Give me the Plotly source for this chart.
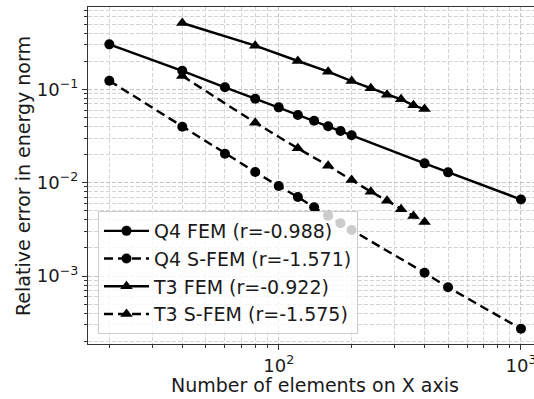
import plotly.graph_objects as go

# ---- data ----
q4_x = [20, 40, 60, 80, 100, 120, 140, 160, 180, 200, 400, 500, 1000]
q4_fem = [0.303, 0.158, 0.105, 0.0793, 0.0641, 0.0531, 0.0461, 0.0402, 0.0357, 0.0322, 0.0161, 0.0129, 0.0066]
q4_sfem = [0.1236, 0.0397, 0.0204, 0.0130, 0.0092, 0.00702, 0.00545, 0.00443, 0.00367, 0.00311, 0.001084, 0.000757, 0.000272]

t3_x = [40, 80, 120, 160, 200, 240, 280, 320, 360, 400]
t3_fem = [0.513, 0.293, 0.201, 0.1545, 0.1227, 0.1025, 0.0875, 0.0781, 0.0674, 0.0615]
t3_sfem = [0.139, 0.0439, 0.0233, 0.0152, 0.01067, 0.0080, 0.00641, 0.00519, 0.00440, 0.00379]

names = ["Q4 FEM (r=-0.988)", "Q4 S-FEM (r=-1.571)", "T3 FEM (r=-0.922)", "T3 S-FEM (r=-1.575)"]

x_label = "Number of elements on X axis"
y_label = "Relative error in energy norm"

x_tickvals = [100, 1000]
x_ticktext = ["10<sup>2</sup>", "10<sup>3</sup>"]
y_tickvals = [1e-3, 1e-2, 1e-1]
y_ticktext = ["10<sup>\u22123</sup>", "10<sup>\u22122</sup>", "10<sup>\u22121</sup>"]

x_minor = [m * 10 ** e for e in range(1, 4) for m in range(2, 10)]
y_minor = [m * 10.0 ** e for e in range(-4, 1) for m in range(2, 10)]

FONT = "DejaVu Sans"
INK = "#1a1a1a"
DASH = "9px,5px"

fig = go.Figure()
series = [
    (q4_x, q4_fem, "solid", "circle", 10),
    (q4_x, q4_sfem, DASH, "circle", 10),
    (t3_x, t3_fem, "solid", "triangle-up", 11),
    (t3_x, t3_sfem, DASH, "triangle-up", 11),
]
for (xs, ys, dash, sym, ms), nm in zip(series, names):
    fig.add_trace(go.Scatter(
        x=xs, y=ys, name=nm, mode="lines+markers",
        line=dict(color="black", width=2.4, dash=dash),
        marker=dict(symbol=sym, size=ms, color="black"),
    ))

grid_major = "#c4c4c4"
grid_minor = "#d4d4d4"

axis_common = dict(
    type="log", tickmode="array", automargin=False,
    showline=True, linecolor="#333333", linewidth=1.2,
    ticks="outside", ticklen=5, tickwidth=1, tickcolor="#333333",
    showgrid=True, gridcolor=grid_major, griddash="4px,2px", gridwidth=1,
    zeroline=False, tickfont=dict(size=18), ticklabeloverflow="allow",
)
minor_common = dict(tickmode="array", ticks="outside", ticklen=3, tickcolor="#333333",
                    showgrid=True, gridcolor=grid_minor, griddash="4px,2px", gridwidth=1)

fig.update_layout(
    width=534, height=399,
    margin=dict(l=88, r=0, t=7, b=55),
    paper_bgcolor="white", plot_bgcolor="white",
    font=dict(family=FONT, size=18, color=INK),
    showlegend=True,
    legend=dict(
        x=0.0224, y=0.0297, xanchor="left", yanchor="bottom",
        bgcolor="rgba(255,255,255,0.8)", bordercolor="#cccccc", borderwidth=1,
        font=dict(family=FONT, size=19, color=INK),
        itemwidth=45,
    ),
    xaxis=dict(axis_common, range=[1.2130, 3.0537], mirror=True,
               tickvals=x_tickvals, ticktext=x_ticktext,
               minor=dict(minor_common, tickvals=x_minor)),
    yaxis=dict(axis_common, range=[-3.728, -0.1184], mirror=False,
               tickvals=y_tickvals, ticktext=y_ticktext,
               minor=dict(minor_common, tickvals=y_minor)),
    annotations=[
        dict(text=x_label, xref="paper", yref="paper", x=0.509, y=-0.1217,
             xanchor="center", yanchor="middle", showarrow=False,
             font=dict(size=19, family=FONT, color=INK)),
        dict(text=y_label, xref="paper", yref="paper", x=-0.1469, y=0.5,
             xanchor="center", yanchor="middle", showarrow=False, textangle=-90,
             font=dict(size=19, family=FONT, color=INK)),
    ],
)

fig.write_html(
    "out.html",
    config={"displayModeBar": False},
    post_script="document.body.style.margin='0';document.body.style.overflow='hidden';",
)
